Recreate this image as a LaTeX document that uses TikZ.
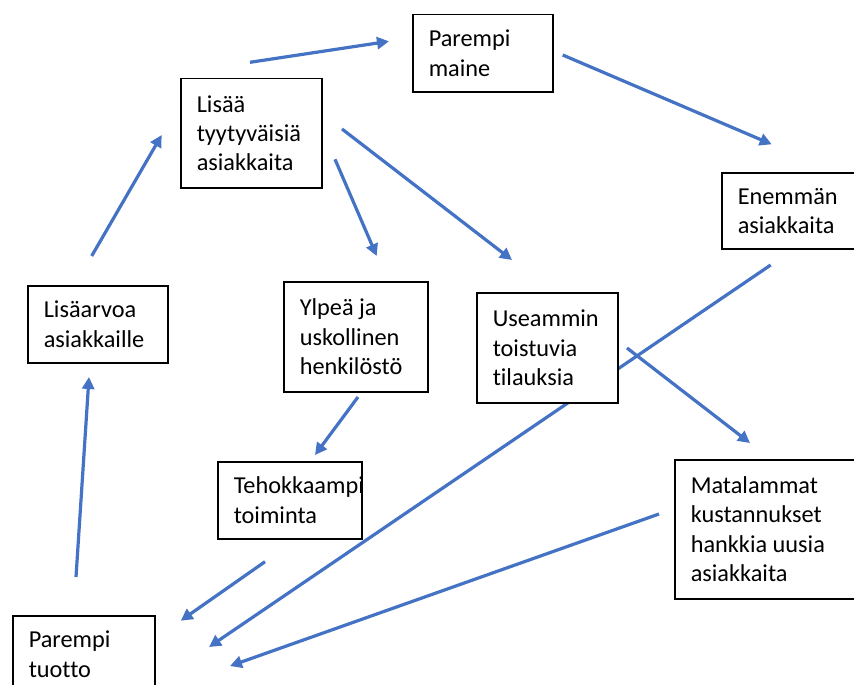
\documentclass[tikz,border=0pt]{standalone}
\usepackage{fontspec}
\setmainfont[Ligatures=NoCommon]{Carlito}
\usetikzlibrary{arrows.meta}
\hyphenpenalty=10000
\exhyphenpenalty=10000
\hbadness=10000
\hfuzz=100pt
\definecolor{arrblue}{HTML}{4472C4}
\begin{document}
\begin{tikzpicture}[x=1pt,y=-1pt,
  box/.style={draw=black,line width=1.5pt,fill=white,rectangle,anchor=north west,
    inner xsep=16pt,inner ysep=0pt,align=flush left,
    font=\fontsize{24.3}{29.4}\selectfont},
  arr/.style={draw=arrblue,line width=3.2pt,-{Triangle[length=12pt,width=12pt]}}]
\clip (0,0) rectangle (854,685);
\fill[white] (0,0) rectangle (854,685);
% arrow end points
\coordinate (a1) at (250,62.3);   \coordinate (a2) at (389,41.3);
\coordinate (b1) at (562.7,55);   \coordinate (b2) at (771.7,144.3);
\coordinate (c1) at (335,159.3);  \coordinate (c2) at (376.7,256);
\coordinate (d1) at (342,129);    \coordinate (d2) at (512,260);
\coordinate (e1) at (91.7,256);   \coordinate (e2) at (161.7,135);
\coordinate (f1) at (76,577);     \coordinate (f2) at (89,377);
\coordinate (g1) at (358,397);    \coordinate (g2) at (315,455);
\coordinate (h1) at (627,348);    \coordinate (h2) at (750,443);
\coordinate (i1) at (770.7,265);  \coordinate (i2) at (209,647);
\coordinate (j1) at (265,561.7);  \coordinate (j2) at (180.7,620.7);
\coordinate (k1) at (659,514);    \coordinate (k2) at (230,666);
% arrows
\draw[arr] (a1) -- (a2);
\draw[arr] (b1) -- (b2);
\draw[arr] (c1) -- (c2);
\draw[arr] (d1) -- (d2);
\draw[arr] (e1) -- (e2);
\draw[arr] (f1) -- (f2);
\draw[arr] (g1) -- (g2);
\draw[arr] (h1) -- (h2);
\draw[arr] (i1) -- (i2);
\draw[arr] (j1) -- (j2);
\draw[arr] (k1) -- (k2);
% boxes
\node[box,text width=108pt,minimum height=77pt] (pm) at (412,14) {Parempi\\maine};
\node[box,text width=109pt,minimum height=109pt] (lt) at (180,78) {Lisää\\tyytyväisiä\\asiakkaita};
\node[box,text width=113pt,minimum height=76pt] (ea) at (721,172) {Enemmän\\asiakkaita};
\node[box,text width=108pt,minimum height=77pt] (la) at (27,285) {Lisäarvoa\\asiakkaille};
\node[box,text width=112pt,minimum height=110pt] (yu) at (283,281) {Ylpeä ja\\uskollinen\\henkilöstö};
\node[box,text width=109pt,minimum height=110pt] (ut) at (476,292) {Useammin\\toistuvia\\tilauksia};
\node[box,text width=112pt,minimum height=77pt] (tt) at (217,461) {Tehokkaampi\\toiminta};
\node[box,text width=158pt,minimum height=139pt] (mk) at (674,459) {Matalammat\\kustannukset\\hankkia uusia\\asiakkaita};
\node[box,text width=110pt,minimum height=77pt] (pt) at (12,615) {Parempi\\tuotto};
\end{tikzpicture}
\end{document}
